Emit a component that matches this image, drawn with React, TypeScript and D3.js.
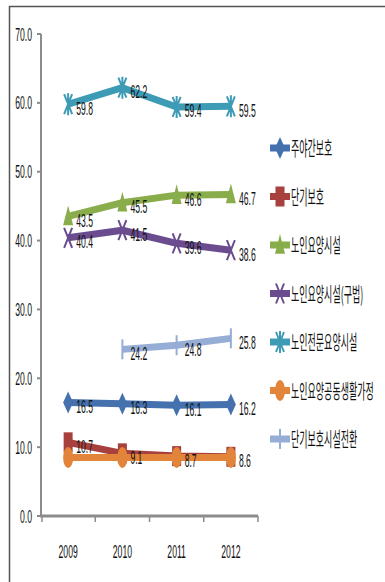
import React from "react";
import * as d3 from "d3";

const years = ["2009", "2010", "2011", "2012"];
const yTicks = [0, 10, 20, 30, 40, 50, 60, 70];

const seriesNames = [
  "주야간보호",
  "단기보호",
  "노인요양시설",
  "노인요양시설(구법)",
  "노인전문요양시설",
  "노인요양공동생활가정",
  "단기보호시설전환",
];

const dayNight = [16.5, 16.3, 16.1, 16.2];
const shortTerm = [10.7, 9.1, 8.7, 8.6];
const nursingHome = [43.5, 45.5, 46.6, 46.7];
const nursingHomeOld = [40.4, 41.5, 39.6, 38.6];
const specialNursing = [59.8, 62.2, 59.4, 59.5];
const groupHome = [8.5, 8.5, 8.5, 8.5];
const shortTermConverted: (number | null)[] = [null, 24.2, 24.8, 25.8];

const seriesValues: (number | null)[][] = [
  dayNight,
  shortTerm,
  nursingHome,
  nursingHomeOld,
  specialNursing,
  groupHome,
  shortTermConverted,
];
const showLabels = [true, true, true, true, true, false, true];

const colors = ["#4571AE", "#A8403E", "#8AAD4C", "#6A4C8F", "#3E9BB5", "#E2843A", "#96ADD6"];
const markers = ["diamond", "square", "triangle", "x", "star", "circle", "dash"];

const W = 385;
const H = 582;
const plot = { left: 41, right: 258, top: 34, bottom: 516 };

const x = d3.scaleBand<string>().domain(years).range([plot.left, plot.right]);
const y = d3.scaleLinear().domain([0, 70]).range([plot.bottom, plot.top]);
const cx = (yr: string) => (x(yr) as number) + x.bandwidth() / 2;

const NUM_FONT = "'Liberation Sans', Arial, sans-serif";
const KR_FONT = "'Noto Sans CJK KR', 'Noto Sans', sans-serif";
const SQX = 0.48;

function Marker({ kind, color }: { kind: string; color: string }) {
  const w = 5;
  const h = 11;
  switch (kind) {
    case "diamond":
      return <path d={`M0,${-h}L${w},0L0,${h}L${-w},0Z`} fill={color} />;
    case "square":
      return <rect x={-4.5} y={-10} width={9} height={20} fill={color} />;
    case "triangle":
      return <path d={`M0,${-h}L${w},${h * 0.8}L${-w},${h * 0.8}Z`} fill={color} />;
    case "x":
      return (
        <path d={`M${-4},${-10}L4,10M4,${-10}L-4,10`} stroke={color} strokeWidth={2} fill="none" />
      );
    case "star":
      return (
        <path
          d={`M${-4},${-10}L4,10M4,${-10}L-4,10M0,-11L0,11`}
          stroke={color}
          strokeWidth={2}
          fill="none"
        />
      );
    case "circle":
      return <ellipse rx={5} ry={10.5} fill={color} />;
    case "dash":
      return <path d="M0,-10L0,10" stroke={color} strokeWidth={2} />;
    default:
      return null;
  }
}

function SqText({
  x: tx,
  y: ty,
  anchor = "start",
  font = NUM_FONT,
  size = 18,
  sx = SQX,
  children,
}: {
  x: number;
  y: number;
  anchor?: string;
  font?: string;
  size?: number;
  sx?: number;
  children: React.ReactNode;
}) {
  return (
    <text
      transform={`translate(${tx},${ty}) scale(${sx},1)`}
      textAnchor={anchor as any}
      fontFamily={font}
      fontSize={size}
      fill="#111"
    >
      {children}
    </text>
  );
}

export default function App() {
  const line = d3
    .line<{ yr: string; v: number | null }>()
    .defined((d) => d.v != null)
    .x((d) => cx(d.yr))
    .y((d) => y(d.v as number));

  const legendTop = 148;
  const legendStep = 48.5;

  return (
    <svg
      width={W}
      height={H}
      style={{ position: "absolute", left: 0, top: 0, background: "#fff" }}
    >
      {/* frame */}
      <path d={`M9.5,${H}L9.5,6.5L${W},6.5`} stroke="#555" strokeWidth={1.5} fill="none" />

      {/* y axis */}
      <line x1={plot.left} x2={plot.left} y1={plot.top} y2={plot.bottom} stroke="#8c8c8c" strokeWidth={2} />
      {yTicks.map((t) => (
        <g key={t}>
          <line x1={plot.left - 4} x2={plot.left} y1={y(t)} y2={y(t)} stroke="#8c8c8c" strokeWidth={2} />
          <SqText x={plot.left - 9} y={y(t) + 6.5} anchor="end">
            {t.toFixed(1)}
          </SqText>
        </g>
      ))}

      {/* x axis */}
      <line x1={plot.left - 1} x2={plot.right} y1={plot.bottom} y2={plot.bottom} stroke="#8c8c8c" strokeWidth={3} />
      {years.map((yr, i) => (
        <line
          key={"t" + yr}
          x1={(x(yr) as number) + (i === 0 ? 1 : 0)}
          x2={(x(yr) as number) + (i === 0 ? 1 : 0)}
          y1={plot.bottom}
          y2={plot.bottom + 6}
          stroke="#8c8c8c"
          strokeWidth={1.5}
        />
      ))}
      <line x1={plot.right} x2={plot.right} y1={plot.bottom} y2={plot.bottom + 6} stroke="#8c8c8c" strokeWidth={1.5} />
      {years.map((yr) => (
        <SqText key={"l" + yr} x={cx(yr)} y={558} anchor="middle">
          {yr}
        </SqText>
      ))}

      {/* series */}
      {seriesValues.map((vals, si) => {
        const pts = years.map((yr, i) => ({ yr, v: vals[i] }));
        return (
          <g key={"s" + si}>
            <path d={line(pts) || ""} stroke={colors[si]} strokeWidth={7} fill="none" strokeLinejoin="round" />
            {pts
              .filter((p) => p.v != null)
              .map((p) => (
                <g key={p.yr} transform={`translate(${cx(p.yr)},${y(p.v as number)})`}>
                  <Marker kind={markers[si]} color={colors[si]} />
                </g>
              ))}
          </g>
        );
      })}

      {/* data labels */}
      {seriesValues.map((vals, si) =>
        showLabels[si]
          ? years.map((yr, i) =>
              vals[i] == null ? null : (
                <SqText key={si + yr} x={cx(yr) + 8} y={y(vals[i] as number) + 10.5}>
                  {(vals[i] as number).toFixed(1)}
                </SqText>
              )
            )
          : null
      )}

      {/* legend */}
      {seriesNames.map((name, si) => {
        const ly = legendTop + si * legendStep;
        return (
          <g key={"lg" + si}>
            <line x1={270} x2={290} y1={ly} y2={ly} stroke={colors[si]} strokeWidth={7} />
            <g transform={`translate(280,${ly})`}>
              <Marker kind={markers[si]} color={colors[si]} />
            </g>
            <SqText x={291} y={ly + 8} font={KR_FONT} size={20} sx={0.45}>
              {name}
            </SqText>
          </g>
        );
      })}
    </svg>
  );
}
